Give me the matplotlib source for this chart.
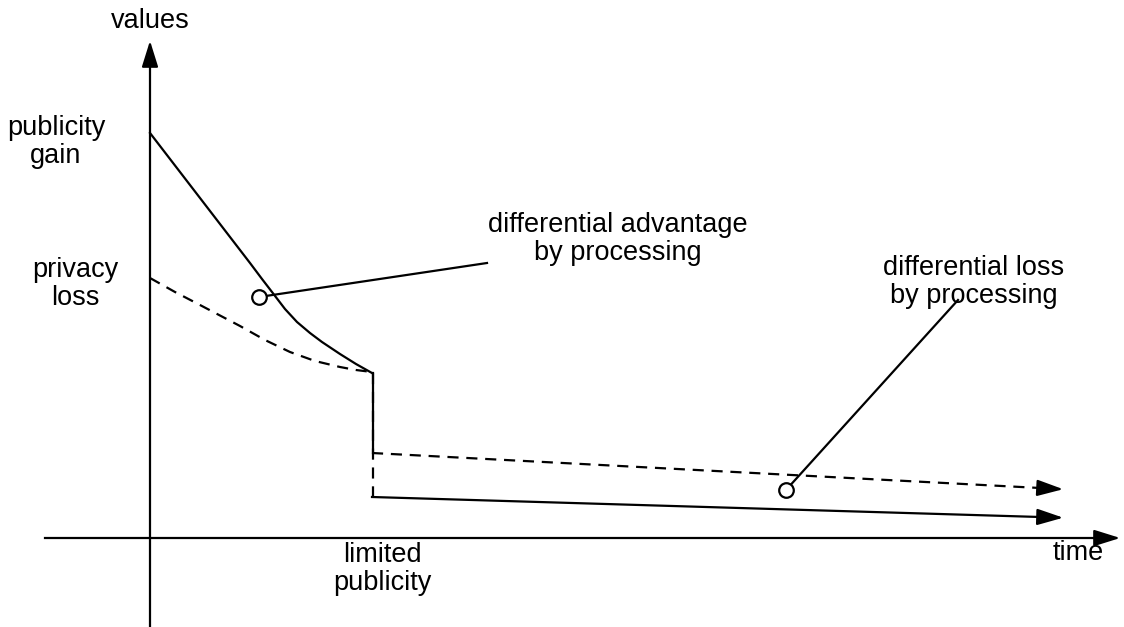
import matplotlib.pyplot as plt

plt.rcParams['font.family'] = ['Liberation Sans', 'DejaVu Sans']

LW = 1.6
FS = 19.5
LS = 1.08
DASH = (0, (5, 3.5))

# diagram coordinates (pixel-like units, y grows downward)
gain_x = [150, 200, 250, 262, 272, 285, 297, 310, 322, 340, 356, 372]
gain_y = [133, 198, 263, 279, 292, 309, 322, 333, 342, 354, 364, 373]
loss_x = [150, 175, 200, 240, 265, 290, 315, 340, 356, 372]
loss_y = [278, 292, 305, 326, 340, 352, 361, 367, 370, 372]

gain_after_x = [372, 1040]
gain_after_y = [497, 517]
loss_after_x = [372, 1040]
loss_after_y = [453, 488]

markers_x = [259, 786]
markers_y = [297, 490]
callout_ends_x = [487, 958]
callout_ends_y = [263, 300]

fig = plt.figure(figsize=(11.24, 6.27), dpi=100)
ax = fig.add_axes([0, 0, 1, 1])
ax.set_xlim(0, 1124)
ax.set_ylim(627, 0)
ax.axis('off')

head = dict(arrowstyle='-|>,head_length=1.6,head_width=0.5', color='black', lw=LW)

# axes arrows
ax.plot([150, 150], [627, 60], color='black', lw=LW)
ax.annotate('', xy=(150, 38), xytext=(150, 64), arrowprops=head)
ax.plot([45, 1100], [538, 538], color='black', lw=LW)
ax.annotate('', xy=(1123, 538), xytext=(1099, 538), arrowprops=head)

# curves
ax.plot(gain_x, gain_y, color='black', lw=LW, solid_joinstyle='round')
ax.plot(loss_x, loss_y, color='black', lw=LW, ls=DASH)
ax.plot([373, 373], [373, 497], color='black', lw=LW, ls=DASH)
ax.plot([373, 373], [373, 453], color='black', lw=LW)

ax.plot(gain_after_x, gain_after_y, color='black', lw=LW)
ax.plot(loss_after_x, loss_after_y, color='black', lw=LW, ls=DASH)
for xs, ys in [(gain_after_x, gain_after_y), (loss_after_x, loss_after_y)]:
    slope = (ys[1] - ys[0]) / (xs[1] - xs[0])
    ax.annotate('', xy=(1066, ys[1] + slope * 26), xytext=(xs[1] - 1, ys[1]), arrowprops=head)

# callouts
for mx, my, ex, ey in zip(markers_x, markers_y, callout_ends_x, callout_ends_y):
    ax.plot([mx, ex], [my, ey], color='black', lw=LW)
ax.plot(markers_x, markers_y, 'o', ms=10.5, mfc='white', mec='black', mew=LW, zorder=5)

# labels (y = baseline of last line)
txt = dict(ha='center', va='baseline', fontsize=FS, linespacing=LS)
ax.text(150, 28, 'values', **txt)
ax.text(56, 163, 'publicity\ngain', **txt)
ax.text(75, 305, 'privacy\nloss', **txt)
ax.text(618, 260, 'differential advantage\nby processing', **txt)
ax.text(974, 303, 'differential loss\nby processing', **txt)
ax.text(382, 590, 'limited\npublicity', **txt)
ax.text(1078, 560, 'time', **txt)

fig.savefig('out.png', dpi=100)
